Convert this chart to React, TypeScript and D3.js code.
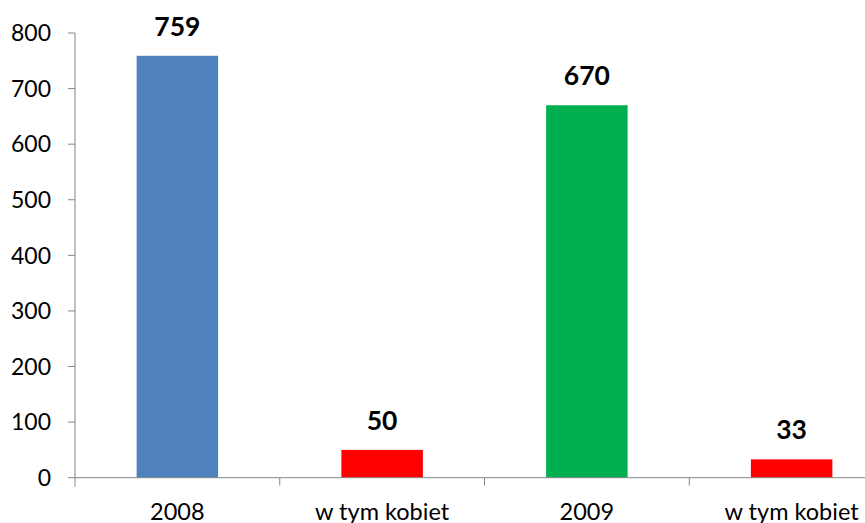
import React from "react";
import * as d3 from "d3";

const categories = ["2008", "w tym kobiet", "2009", "w tym kobiet"];
const values = [759, 50, 670, 33];
const colors = ["#4F81BD", "#FF0000", "#00B050", "#FF0000"];
const yTicks = [0, 100, 200, 300, 400, 500, 600, 700, 800];

export default function App() {
  const W = 865, H = 523;
  const x0 = 75, y0 = 477.7, yTop = 33;
  const x = d3.scaleBand<number>().domain(d3.range(categories.length)).range([x0, 894]).paddingInner(0).paddingOuter(0);
  const y = d3.scaleLinear().domain([0, 800]).range([y0, yTop]);
  const bw = x.bandwidth() * 0.398;
  const font = "Lato, 'Open Sans', sans-serif";
  const axisColor = "#868686";
  return (
    <svg width={W} height={H} style={{ position: "fixed", left: 0, top: 0, background: "#fff" }} fontFamily={font}>
      {/* y axis */}
      <line x1={x0} x2={x0} y1={yTop} y2={y0 + 9} stroke={axisColor} strokeWidth={1} />
      {yTicks.map((t) => (
        <g key={t}>
          <line x1={x0 - 7} x2={x0} y1={y(t)} y2={y(t)} stroke={axisColor} />
          <text x={51} y={y(t)} dy="0.36em" textAnchor="end" fontSize={23} fill="#000">{t}</text>
        </g>
      ))}
      {/* bars */}
      {values.map((v, i) => {
        const cx = (x(i) as number) + x.bandwidth() / 2;
        return (
          <g key={i}>
            <rect x={cx - bw / 2} y={y(v)} width={bw} height={y0 - y(v)} fill={colors[i]} />
            <text x={cx} y={y(v) - 20} textAnchor="middle" fontSize={26.5} fontWeight="bold" fill="#000">{v}</text>
            <text x={cx} y={520} textAnchor="middle" fontSize={23.5} fill="#000">{categories[i]}</text>
          </g>
        );
      })}
      {/* x axis */}
      <line x1={x0} x2={W} y1={y0} y2={y0} stroke={axisColor} />
      {d3.range(1, categories.length).map((i) => (
        <line key={i} x1={x(i) as number} x2={x(i) as number} y1={y0} y2={y0 + 8} stroke={axisColor} />
      ))}
    </svg>
  );
}
